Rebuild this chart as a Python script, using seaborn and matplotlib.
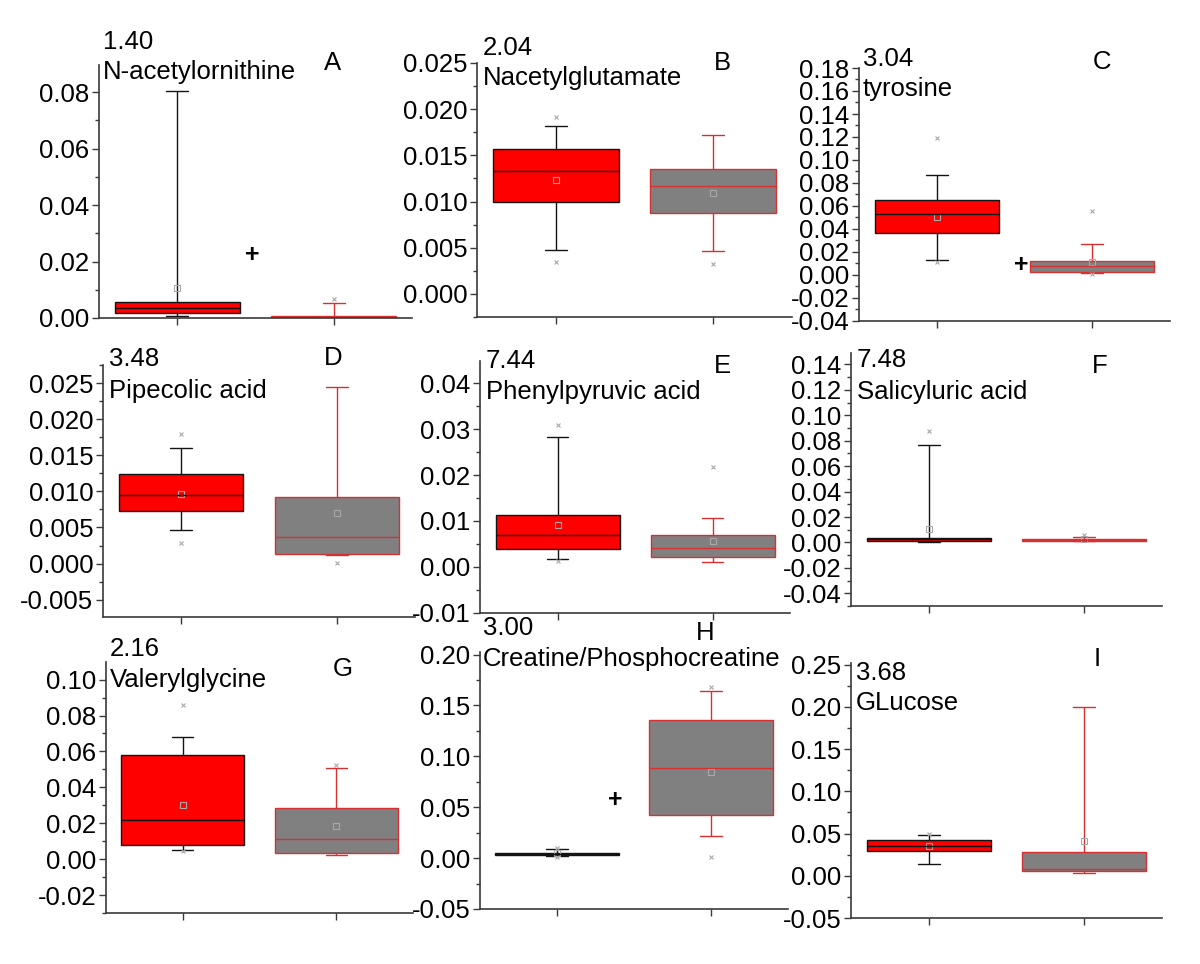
import numpy as np
import pandas as pd
import matplotlib
matplotlib.use("Agg")
import matplotlib.pyplot as plt
import seaborn as sns
from matplotlib.ticker import MultipleLocator, FormatStrFormatter

# ---------------- data ----------------
letters = ["A", "B", "C", "D", "E", "F", "G", "H", "I"]
names = ["N-acetylornithine", "Nacetylglutamate", "tyrosine",
         "Pipecolic acid", "Phenylpyruvic acid", "Salicyluric acid",
         "Valerylglycine", "Creatine/Phosphocreatine", "GLucose"]
shifts = ["1.40", "2.04", "3.04", "3.48", "7.44", "7.48", "2.16", "3.00", "3.68"]
groups = ["Group 1", "Group 2"]

# group 1 (red boxes)
g1_low  = [0.0008, 0.0048, 0.0131, 0.0047, 0.0016, 0.0003, 0.0052, 0.0020, 0.0138]
g1_q1   = [0.0019, 0.0100, 0.0368, 0.0073, 0.0038, 0.0010, 0.0076, 0.0035, 0.0293]
g1_med  = [0.0037, 0.0133, 0.0528, 0.0095, 0.0069, 0.0025, 0.0219, 0.0045, 0.0356]
g1_q3   = [0.0056, 0.0157, 0.0648, 0.0124, 0.0112, 0.0034, 0.0580, 0.0055, 0.0423]
g1_high = [0.0805, 0.0182, 0.0869, 0.0160, 0.0284, 0.0768, 0.0678, 0.0085, 0.0487]
g1_mean = [0.0106, 0.0123, 0.0500, 0.0097, 0.0090, 0.0103, 0.0300, 0.0050, 0.0356]
g1_min  = [np.nan, 0.0035, 0.0114, 0.0029, 0.0013, np.nan, 0.0043, 0.0010, np.nan]
g1_max  = [np.nan, 0.0192, 0.1190, 0.0179, 0.0309, 0.0879, 0.0857, 0.0100, 0.0500]

# group 2 (gray boxes)
g2_low  = [0.0000, 0.0046, 0.0018, 0.0012, 0.00095, 0.0010, 0.0022, 0.0221, 0.0028]
g2_q1   = [0.0000, 0.0088, 0.0029, 0.0013, 0.0021, 0.0015, 0.0035, 0.0423, 0.0055]
g2_med  = [0.0003, 0.0117, 0.0076, 0.0037, 0.0040, 0.0020, 0.0113, 0.0886, 0.0083]
g2_q3   = [0.0006, 0.0135, 0.0120, 0.0092, 0.0069, 0.0025, 0.0283, 0.1358, 0.0277]
g2_high = [0.0053, 0.0172, 0.0271, 0.0245, 0.0106, 0.0040, 0.0509, 0.1645, 0.1998]
g2_mean = [np.nan, 0.0109, 0.0114, 0.0070, 0.0057, 0.0030, 0.0187, 0.0847, 0.0415]
g2_min  = [np.nan, 0.0032, 0.0010, 0.0001, np.nan, np.nan, np.nan, 0.0013, np.nan]
g2_max  = [0.0066, np.nan, 0.0560, np.nan, 0.0218, 0.0058, 0.0522, 0.1678, np.nan]

# significance "+" marks (panel index -> value)
plus_panels = [0, 2, 7]
plus_values = [0.0223, 0.0090, 0.0570]

# ---------------- layout ----------------
W, H = 1200, 964
axes_px = [(99, 412, 65, 318), (477, 792, 63, 317), (859, 1170, 68, 321),
           (103, 415, 365, 617), (480, 790, 361, 613), (851, 1162, 353, 606),
           (106, 413, 662, 913), (480, 788, 652, 909), (851, 1162, 663, 918)]
ylims = [(0, 0.0896), (-0.0025, 0.025), (-0.04, 0.18),
         (-0.0074, 0.0275), (-0.0101, 0.0449), (-0.05, 0.149),
         (-0.03, 0.1098), (-0.05, 0.2025), (-0.05, 0.252)]
majors = [0.02, 0.005, 0.02, 0.005, 0.01, 0.02, 0.02, 0.05, 0.05]
fmts = ["%.2f", "%.3f", "%.2f", "%.3f", "%.2f", "%.2f", "%.2f", "%.2f", "%.2f"]
shift_px = [(103, 42), (483, 48), (863, 59), (109, 359), (486, 361), (857, 360),
            (110, 649), (483, 628), (856, 673)]
name_px = [(103, 72), (483, 78), (863, 89), (109, 391), (486, 392), (857, 392),
           (110, 680), (483, 659), (856, 703)]
letter_px = [(333, 63), (722, 63), (1102, 62), (333, 358), (722, 366), (1100, 366),
             (343, 669), (705, 633), (1097, 659)]
plus_x = [0.478, 0.542, 0.377]

sns.set_theme(style="ticks")
plt.rcParams["font.family"] = ["Liberation Sans", "DejaVu Sans"]
plt.rcParams["text.color"] = "black"
plt.rcParams["ytick.labelcolor"] = "black"

FS = 18.5
spine_col = "#3a3a3a"
g1_fill, g1_line = "#ff0000", "#141414"
g2_fill, g2_line = "#808080", "#d63030"
mark_col = "#a8a8a8"

fig = plt.figure(figsize=(12, 9.64), dpi=100)

for i in range(9):
    l, r, t, b = axes_px[i]
    ax = fig.add_axes([l / W, 1 - b / H, (r - l) / W, (b - t) / H])

    stats = [
        (groups[0], [g1_low[i], g1_q1[i], g1_med[i], g1_q3[i], g1_high[i]], g1_fill, g1_line),
        (groups[1], [g2_low[i], g2_q1[i], g2_med[i], g2_q3[i], g2_high[i]], g2_fill, g2_line),
    ]
    for gname, vals, fill, line in stats:
        df = pd.DataFrame({"group": [gname] * len(vals), "value": vals})
        sns.boxplot(data=df, x="group", y="value", order=groups, whis=(0, 100),
                    width=0.8, color=fill, linecolor=line, linewidth=1.0,
                    saturation=1, capwidths=0.14, ax=ax)

    for pos, mean, mn, mx in [(0, g1_mean[i], g1_min[i], g1_max[i]),
                              (1, g2_mean[i], g2_min[i], g2_max[i])]:
        if not np.isnan(mean):
            ax.plot([pos], [mean], marker="s", ms=4, mfc="none", mec=mark_col, mew=0.8, ls="none")
        for v in (mn, mx):
            if not np.isnan(v):
                ax.plot([pos], [v], marker="x", ms=3.5, mec=mark_col, mew=0.8, ls="none")

    if i in plus_panels:
        k = plus_panels.index(i)
        ax.text(plus_x[k], plus_values[k], "+", ha="center", va="center",
                fontsize=18, fontweight="bold", color="black")

    ax.set_xlim(-0.5, 1.5)
    ax.set_ylim(*ylims[i])
    ax.set_xlabel("")
    ax.set_ylabel("")
    ax.set_xticks([0, 1])
    ax.set_xticklabels(["", ""])
    ax.yaxis.set_major_locator(MultipleLocator(majors[i]))
    ax.yaxis.set_minor_locator(MultipleLocator(majors[i] / 2))
    ax.yaxis.set_major_formatter(FormatStrFormatter(fmts[i]))
    ax.tick_params(axis="y", which="major", length=5, width=1, color=spine_col,
                   labelsize=FS, labelcolor="black", pad=2, direction="out")
    ax.tick_params(axis="y", which="minor", length=3, width=1, color=spine_col,
                   direction="out")
    ax.tick_params(axis="x", which="major", length=5, width=1, color=spine_col,
                   direction="out")
    sns.despine(ax=ax)
    for s in ("left", "bottom"):
        ax.spines[s].set_color(spine_col)
        ax.spines[s].set_linewidth(1.2)
    ax.set_facecolor("white")

    fig.text(shift_px[i][0] / W, 1 - shift_px[i][1] / H, shifts[i], fontsize=FS,
             ha="left", va="center", color="black")
    fig.text(name_px[i][0] / W, 1 - name_px[i][1] / H, names[i], fontsize=FS,
             ha="left", va="center", color="black")
    fig.text(letter_px[i][0] / W, 1 - letter_px[i][1] / H, letters[i], fontsize=FS,
             ha="center", va="center", color="black")

fig.savefig("out.png", dpi=100, facecolor="white")
